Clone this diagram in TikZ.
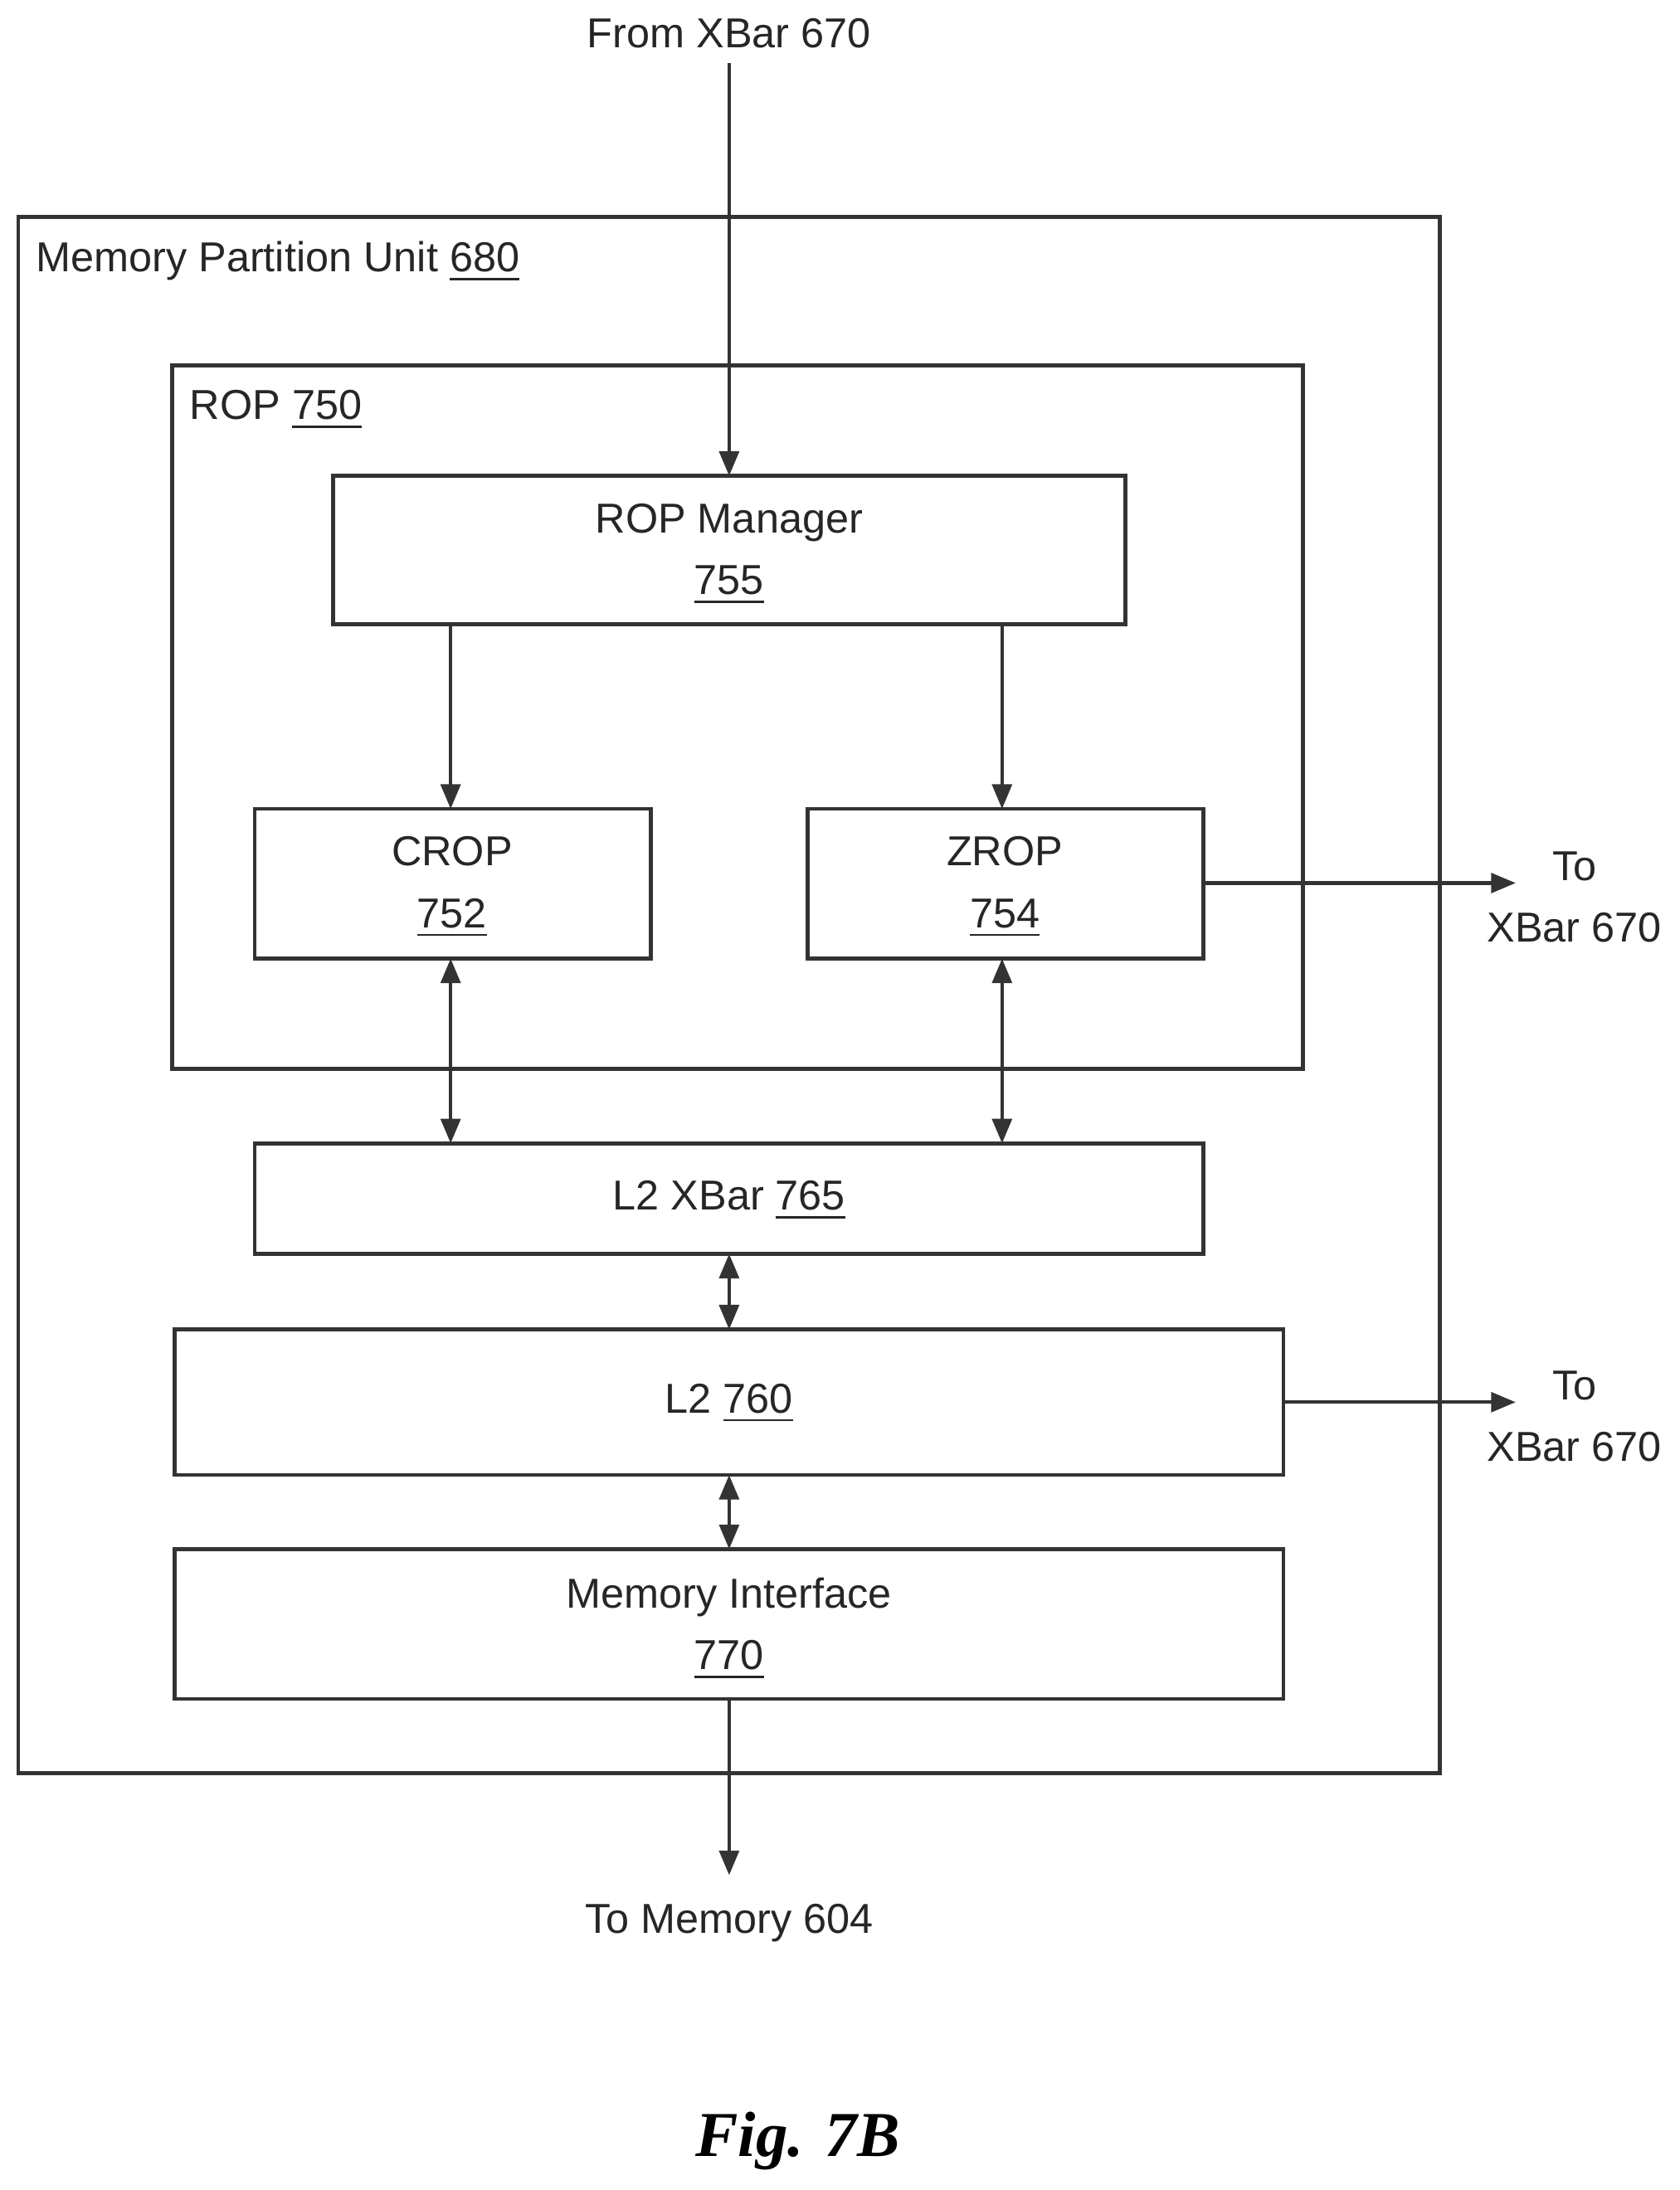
\documentclass[tikz,border=0pt]{standalone}
\usepackage{fontspec}
\setmainfont{Liberation Sans}
\newfontfamily\figfont{Liberation Serif}
\usetikzlibrary{arrows.meta}
\begin{document}
\begin{tikzpicture}[x=0.01cm,y=-0.01cm,
  box/.style={draw=black!80,line width=0.8pt},
  lbl/.style={font=\fontsize{8.5}{10.5}\selectfont,text=black!85,align=center,inner sep=0pt},
  arr/.style={draw=black!80,line width=0.7pt,-{Triangle[length=5pt,width=4pt]}},
  darr/.style={draw=black!80,line width=0.7pt,{Triangle[length=5pt,width=4pt]}-{Triangle[length=5pt,width=4pt]}}]
\useasboundingbox (0,0) rectangle (1200,1565);
\draw[box] (13,155) rectangle (1029,1267);
\node[lbl,anchor=west] (mpu) at (25,187) {Memory Partition Unit \underline{680}};
\draw[box] (123,261) rectangle (931,764);
\node[lbl,anchor=west] (rop) at (135,293) {ROP \underline{750}};
\draw[box] (238,340) rectangle (804,446);
\coordinate (mgrT) at (521,340);
\node[lbl] (mgr) at (521,396) {ROP Manager\\[2pt]\underline{755}};
\draw[box] (182,578) rectangle (465,685);
\node[lbl] (crop) at (323,634) {CROP\\[2pt]\underline{752}};
\draw[box] (577,578) rectangle (860,685);
\node[lbl] (zrop) at (718,634) {ZROP\\[2pt]\underline{754}};
\draw[box] (182,817) rectangle (860,896);
\node[lbl] (l2x) at (521,858) {L2 XBar \underline{765}};
\draw[box] (125,950) rectangle (917,1054);
\node[lbl] (l2) at (521,1003) {L2 \underline{760}};
\draw[box] (125,1107) rectangle (917,1214);
\node[lbl] (mi) at (521,1164) {Memory Interface\\[2pt]\underline{770}};
\node[lbl] (from) at (521,24) {From XBar 670};
\node[lbl] (tomem) at (521,1374) {To Memory 604};
\node[lbl] (tx1) at (1125,641) {To\\[2pt]XBar 670};
\node[lbl] (tx2) at (1125,1012) {To\\[2pt]XBar 670};
\coordinate (fromB) at (521,45);
\coordinate (memE) at (521,1340);
\coordinate (tx1E) at (1083,631);
\coordinate (tx2E) at (1083,1002);
\draw[arr] (fromB) -- (mgrT);
\draw[arr] (322,446) -- (322,578);
\draw[arr] (716,446) -- (716,578);
\draw[darr] (322,685) -- (322,817);
\draw[darr] (716,685) -- (716,817);
\draw[darr] (521,896) -- (521,950);
\draw[darr] (521,1054) -- (521,1107);
\draw[arr] (521,1214) -- (memE);
\draw[arr] (860,631) -- (tx1E);
\draw[arr] (917,1002) -- (tx2E);
\node[font=\figfont\bfseries\itshape\fontsize{13}{15}\selectfont] (fig) at (570,1530) {Fig. 7B};
\end{tikzpicture}
\end{document}
